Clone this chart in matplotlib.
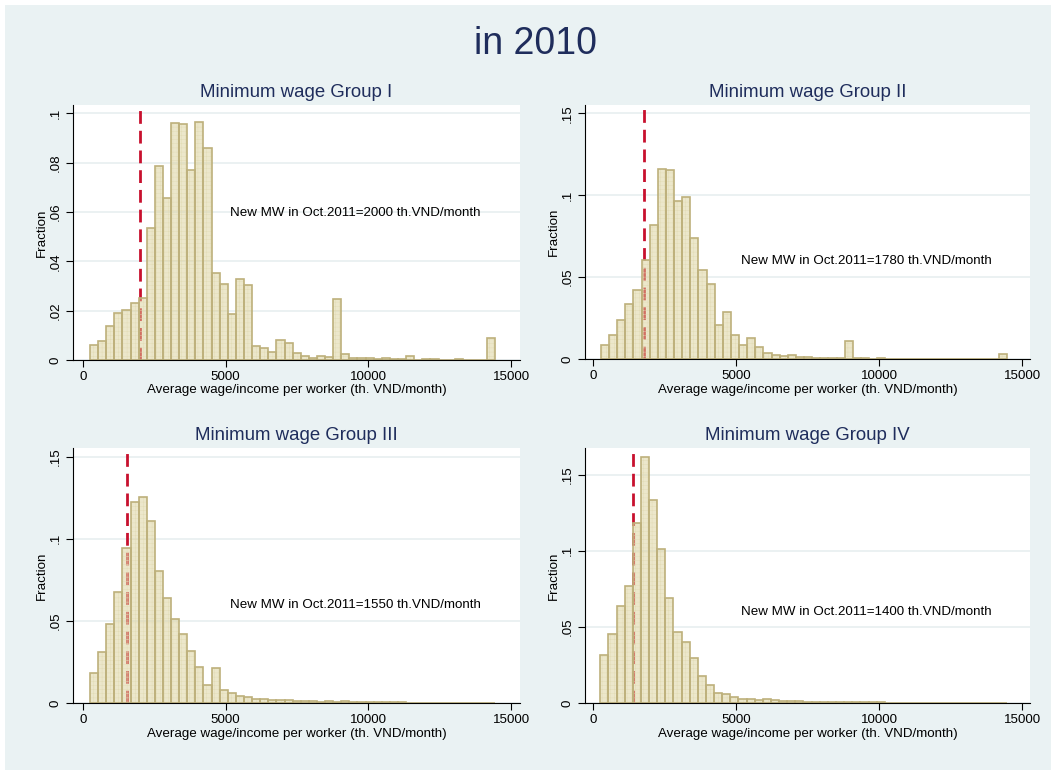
import matplotlib
matplotlib.use("Agg")
import matplotlib.pyplot as plt
from matplotlib.patches import Rectangle
import numpy as np

plt.rcParams['font.family'] = ['Liberation Sans', 'DejaVu Sans']
plt.rcParams['hatch.linewidth'] = 0.3

# ---- data -------------------------------------------------------------
groups = ["Minimum wage Group I", "Minimum wage Group II",
          "Minimum wage Group III", "Minimum wage Group IV"]
new_mw = [2000, 1780, 1550, 1400]          # th. VND / month
bin_start = [246, 275, 246, 255]
bin_width = 284

frac_g1 = [0.0060, 0.0077, 0.0139, 0.0189, 0.0201, 0.0232, 0.0253, 0.0534, 0.0784, 0.0658,
           0.0962, 0.0955, 0.0768, 0.0966, 0.0858, 0.0351, 0.0307, 0.0187, 0.0330, 0.0304,
           0.0057, 0.0048, 0.0031, 0.0081, 0.0069, 0.0028, 0.0016, 0.0009, 0.0015, 0.0011,
           0.0247, 0.0023, 0.0009, 0.0007, 0.0008, 0.0005, 0.0009, 0.0005, 0.0005, 0.0016,
           0.0000, 0.0004, 0.0004, 0.0000, 0.0000, 0.0004, 0.0000, 0.0000, 0.0000, 0.0089]
frac_g2 = [0.0083, 0.0144, 0.0238, 0.0333, 0.0423, 0.0602, 0.0817, 0.1159, 0.1152, 0.0965,
           0.0986, 0.0736, 0.0543, 0.0457, 0.0206, 0.0285, 0.0145, 0.0088, 0.0128, 0.0073,
           0.0034, 0.0023, 0.0018, 0.0022, 0.0012, 0.0010, 0.0008, 0.0006, 0.0005, 0.0005,
           0.0110, 0.0008, 0.0005, 0.0000, 0.0004, 0.0000, 0.0000, 0.0000, 0.0000, 0.0000,
           0.0000, 0.0000, 0.0000, 0.0000, 0.0000, 0.0000, 0.0000, 0.0000, 0.0000, 0.0030]
frac_g3 = [0.0185, 0.0311, 0.0484, 0.0675, 0.0941, 0.1224, 0.1256, 0.1110, 0.0805, 0.0640,
           0.0512, 0.0423, 0.0317, 0.0222, 0.0110, 0.0215, 0.0082, 0.0063, 0.0043, 0.0039,
           0.0026, 0.0026, 0.0021, 0.0018, 0.0016, 0.0014, 0.0012, 0.0010, 0.0008, 0.0012,
           0.0008, 0.0011, 0.0007, 0.0004, 0.0005, 0.0005, 0.0005, 0.0004, 0.0004, 0.0002,
           0.0001, 0.0001, 0.0001, 0.0000, 0.0000, 0.0000, 0.0000, 0.0000, 0.0000, 0.0000]
frac_g4 = [0.0318, 0.0456, 0.0640, 0.0770, 0.1184, 0.1614, 0.1333, 0.1009, 0.0693, 0.0467,
           0.0401, 0.0296, 0.0180, 0.0118, 0.0066, 0.0062, 0.0042, 0.0029, 0.0027, 0.0022,
           0.0026, 0.0018, 0.0015, 0.0013, 0.0011, 0.0009, 0.0009, 0.0004, 0.0009, 0.0009,
           0.0004, 0.0007, 0.0004, 0.0006, 0.0009, 0.0001, 0.0001, 0.0000, 0.0000, 0.0000,
           0.0000, 0.0000, 0.0000, 0.0000, 0.0000, 0.0000, 0.0000, 0.0000, 0.0000, 0.0000]
fractions = [frac_g1, frac_g2, frac_g3, frac_g4]

y_ticks = [[0, 0.02, 0.04, 0.06, 0.08, 0.1],
           [0, 0.05, 0.1, 0.15],
           [0, 0.05, 0.1, 0.15],
           [0, 0.05, 0.1, 0.15]]
y_ticklabels = [["0", ".02", ".04", ".06", ".08", ".1"],
                ["0", ".05", ".1", ".15"],
                ["0", ".05", ".1", ".15"],
                ["0", ".05", ".1", ".15"]]
y_top = [0.1033, 0.155, 0.1553, 0.1676]
x_ticks = [0, 5000, 10000, 15000]

# ---- style ------------------------------------------------------------
BG = "#EAF2F3"
NAVY = "#1F2D5C"
BAR_FILL = (0.86, 0.82, 0.60, 0.50)
BAR_HATCH = "#E2DBB4"
BAR_EDGE = "#BDB07B"
MW_RED = "#C8102E"
GRID = "#E8EFF0"
FS = 9.6

W, H = 1051, 770
fig = plt.figure(figsize=(W / 100, H / 100), dpi=100, facecolor="white")
fig.patches.append(Rectangle((5 / W, 0), 1 - 5 / W, 1 - 5 / H,
                             transform=fig.transFigure, facecolor=BG,
                             edgecolor="none", zorder=-10))

# plot-region boxes in pixels: (left, right, top, bottom)
boxes = [(73, 520, 105, 360), (585, 1030, 105, 359),
         (73, 520, 448, 703), (585, 1030, 448, 703)]
x_left = [-350, -280, -350, -280]
x_right = [15313, 15270, 15313, 15270]

for i, (l, r, t, b) in enumerate(boxes):
    ax = fig.add_axes([l / W, 1 - b / H, (r - l) / W, (b - t) / H])
    ax.set_facecolor("white")
    ax.set_axisbelow(True)

    edges = bin_start[i] + bin_width * np.arange(len(fractions[i]))
    ax.axvline(new_mw[i], color=MW_RED, lw=2.0, dashes=(4.6, 2.5), zorder=1)
    ax.bar(edges, fractions[i], width=bin_width, align="edge",
           facecolor=BAR_FILL, edgecolor=BAR_HATCH, linewidth=0,
           hatch="++++", zorder=2)
    ax.bar(edges, fractions[i], width=bin_width, align="edge",
           fill=False, edgecolor=BAR_EDGE, linewidth=1.2, zorder=3)

    ax.set_xlim(x_left[i], x_right[i])
    ax.set_ylim(0, y_top[i])
    ax.set_xticks(x_ticks)
    ax.set_xticklabels([str(v) for v in x_ticks], fontsize=FS)
    ax.set_yticks(y_ticks[i])
    ax.set_yticklabels(y_ticklabels[i], fontsize=FS, rotation=90, va="center")
    ax.yaxis.grid(True, color=GRID, lw=1.2)
    for sp in ("top", "right"):
        ax.spines[sp].set_visible(False)
    for sp in ("left", "bottom"):
        ax.spines[sp].set_color("black")
        ax.spines[sp].set_linewidth(0.8)
        ax.spines[sp].set_zorder(5)
    ax.tick_params(axis="both", direction="out", length=5, width=0.8,
                   colors="black", pad=3)
    ax.set_xlabel("Average wage/income per worker (th. VND/month)",
                  fontsize=FS, labelpad=1)
    ax.set_ylabel("Fraction", fontsize=FS, labelpad=1.5)
    ax.set_title(groups[i], fontsize=13.4, color=NAVY, pad=6)
    ax.text(5160, 0.0595,
            "New MW in Oct.2011=%d th.VND/month" % new_mw[i],
            fontsize=FS, ha="left", va="center", color="black", zorder=4)

fig.text(535 / W, 1 - 44 / H, "in 2010", fontsize=27, color=NAVY,
         ha="center", va="center")

fig.savefig("out.png", dpi=100, facecolor=fig.get_facecolor())
